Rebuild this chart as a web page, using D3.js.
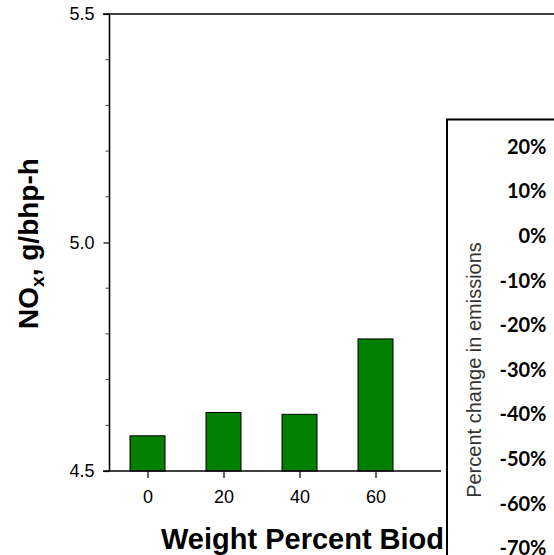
<!DOCTYPE html>
<html>
<head>
<meta charset="utf-8">
<script src="https://cdn.jsdelivr.net/npm/d3@7"></script>
<style>
  body { margin: 0; background: #fff; }
  svg { display: block; }
</style>
</head>
<body>
<svg id="drawing_region"></svg>
<script>
// biodiesel blend levels and NOx readings (only the visible part of the chart)
const blends = [0, 20, 40, 60];
const nox = [4.577, 4.628, 4.624, 4.789];
const yTicks = [4.5, 5.0, 5.5];
const xTicks = [0, 20, 40, 60];
// overlapping panel axis labels
const pctTicks = [20, 10, 0, -10, -20, -30, -40, -50, -60, -70];

const width = 554, height = 555;
const panelLeft = 444;

const svg = d3.select('#drawing_region')
    .attr('width', width)
    .attr('height', height);

// the second panel sits on top of the chart, so the chart is cut at its edge
svg.append('clipPath')
    .attr('id', 'chart_clip')
    .append('path')
    .attr('d', `M0,0H${width}V117H${panelLeft}V${height}H0Z`);

const xscale = d3.scaleLinear().domain([-10, 110]).range([109.5, 565.5]);
const yscale = d3.scaleLinear().domain([4.5, 5.5]).range([471, 14]);

const chart = svg.append('g').attr('clip-path', 'url(#chart_clip)');

// bars
chart.selectAll('rect.bar')
    .data(blends.map((b, i) => ({ x: b, y: nox[i] })))
    .enter()
    .append('rect')
    .attr('class', 'bar')
    .attr('x', d => xscale(d.x) - 17.5)
    .attr('y', d => yscale(d.y))
    .attr('width', 35)
    .attr('height', d => yscale(4.5) - yscale(d.y))
    .attr('fill', '#007f00')
    .attr('stroke', '#000')
    .attr('stroke-width', 1);

// y axis
const yaxis = d3.axisLeft(yscale)
    .tickValues(yTicks)
    .tickFormat(d3.format('.1f'))
    .tickSize(6)
    .tickPadding(9);

const yaxis_group = chart.append('g')
    .attr('transform', 'translate(109.5,0)')
    .call(yaxis);
yaxis_group.select('.domain').remove();
yaxis_group.selectAll('line').attr('stroke', '#000').attr('stroke-width', 1.2);
yaxis_group.selectAll('text')
    .attr('font-family', 'Liberation Sans, Arial, sans-serif')
    .attr('font-size', '18px')
    .attr('fill', '#000');

// minor ticks
const minor = d3.range(4.6, 5.5, 0.1).filter(v => Math.abs(v - 5.0) > 0.01);
chart.selectAll('line.minor')
    .data(minor)
    .enter()
    .append('line')
    .attr('x1', 105.5).attr('x2', 109.5)
    .attr('y1', d => yscale(d)).attr('y2', d => yscale(d))
    .attr('stroke', '#444')
    .attr('stroke-width', 1);

chart.append('line')
    .attr('x1', 109.5).attr('x2', 109.5)
    .attr('y1', yscale(5.5)).attr('y2', yscale(4.5))
    .attr('stroke', '#000').attr('stroke-width', 1.6);

// top frame
chart.append('line')
    .attr('x1', 103).attr('x2', width)
    .attr('y1', yscale(5.5)).attr('y2', yscale(5.5))
    .attr('stroke', '#000').attr('stroke-width', 1.4);

// x axis
const xaxis = d3.axisBottom(xscale)
    .tickValues(xTicks)
    .tickFormat(d3.format('d'))
    .tickSize(7)
    .tickPadding(12);

const xaxis_group = chart.append('g')
    .attr('transform', `translate(0,${yscale(4.5)})`)
    .call(xaxis);
xaxis_group.select('.domain').remove();
xaxis_group.selectAll('line').attr('stroke', '#000').attr('stroke-width', 1.2);
xaxis_group.selectAll('text')
    .attr('font-family', 'Liberation Sans, Arial, sans-serif')
    .attr('font-size', '18px')
    .attr('fill', '#000');

chart.append('line')
    .attr('x1', 103).attr('x2', 441)
    .attr('y1', yscale(4.5)).attr('y2', yscale(4.5))
    .attr('stroke', '#000').attr('stroke-width', 1.6);

// axis titles
chart.append('text')
    .text('Weight Percent Biodiesel')
    .attr('x', 161)
    .attr('y', 549)
    .attr('font-family', 'Liberation Sans, Arial, sans-serif')
    .attr('font-weight', 'bold')
    .attr('font-size', '29px')
    .attr('fill', '#000');

const ylab = chart.append('text')
    .attr('transform', 'translate(38,243.5) rotate(-90)')
    .attr('text-anchor', 'middle')
    .attr('font-family', 'Liberation Sans, Arial, sans-serif')
    .attr('font-weight', 'bold')
    .attr('font-size', '28px')
    .attr('fill', '#000');
ylab.append('tspan').text('NO');
ylab.append('tspan').text('x').attr('font-size', '19px').attr('dy', 6);
ylab.append('tspan').text(', g/bhp-h').attr('dy', -6);

// overlapping panel
const panel = svg.append('g');
panel.append('rect')
    .attr('x', panelLeft).attr('y', 117)
    .attr('width', width - panelLeft).attr('height', height - 117)
    .attr('fill', '#fff');
panel.append('path')
    .attr('d', `M447,${height}V119.5H${width}`)
    .attr('fill', 'none')
    .attr('stroke', '#000')
    .attr('stroke-width', 2);

const pscale = d3.scaleLinear().domain([20, -70]).range([146.6, 548]);

panel.selectAll('text.pct')
    .data(pctTicks)
    .enter()
    .append('text')
    .attr('class', 'pct')
    .text(d => d + '%')
    .attr('x', 546.5)
    .attr('y', d => pscale(d))
    .attr('dy', '0.36em')
    .attr('text-anchor', 'end')
    .attr('font-family', 'Lato, sans-serif')
    .attr('font-weight', 'bold')
    .attr('font-size', '20px')
    .attr('fill', '#000');

panel.append('text')
    .text('Percent change in emissions')
    .attr('transform', 'translate(481,370) rotate(-90)')
    .attr('text-anchor', 'middle')
    .attr('font-family', 'Liberation Sans, Arial, sans-serif')
    .attr('font-size', '20px')
    .attr('fill', '#333');
</script>
</body>
</html>
